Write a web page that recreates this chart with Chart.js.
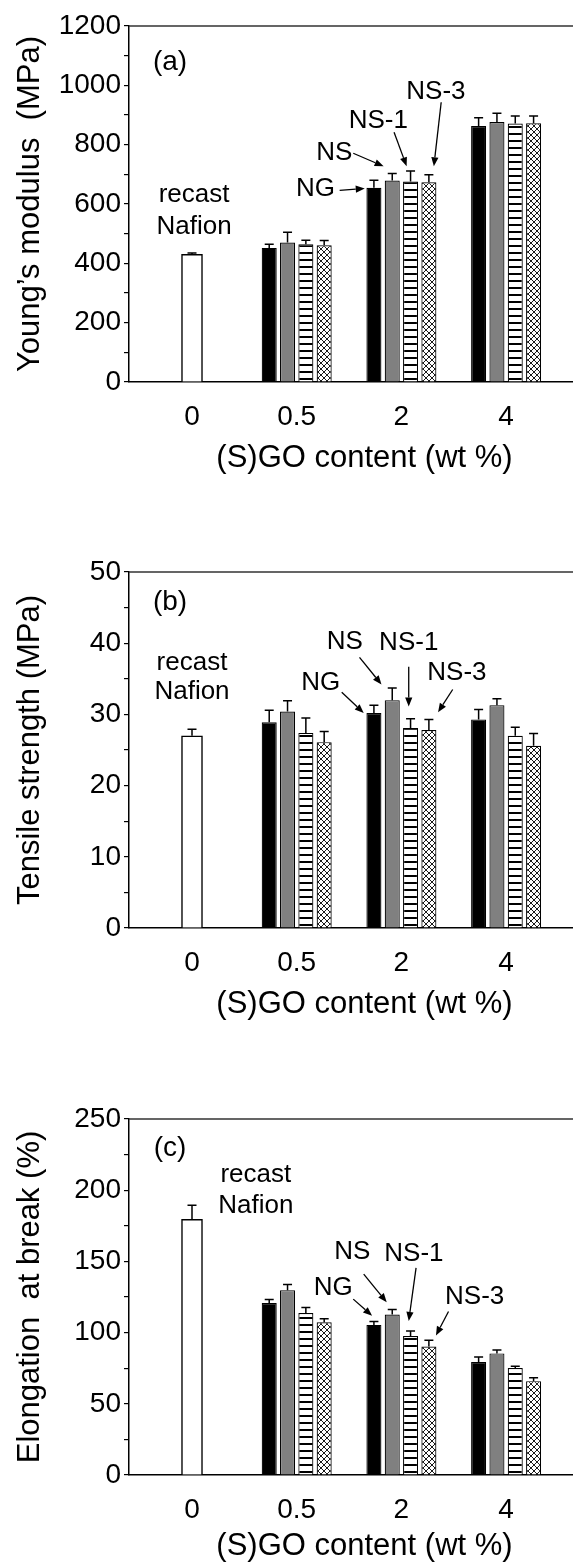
<!DOCTYPE html>
<html>
<head>
<meta charset="utf-8">
<title>Nafion / (S)GO membranes - mechanical properties</title>
<script src="https://cdn.jsdelivr.net/npm/chart.js@4.4.0/dist/chart.umd.min.js"></script>
<style>
html,body{margin:0;padding:0;background:#fff;overflow:hidden;}
body{width:573px;height:1565px;position:relative;}
canvas{position:absolute;left:0;}
</style>
</head>
<body>
<canvas id="chartA" width="600" height="484" style="top:0px"></canvas>
<canvas id="chartB" width="600" height="484" style="top:546px"></canvas>
<canvas id="chartC" width="600" height="472" style="top:1093px"></canvas>

<script>
/* ---------------- Data ---------------- */

const categories = ["0", "0.5", "2", "4"];
const fillers = ["NG", "NS", "NS-1", "NS-3"];

// (a) Young's modulus (MPa)
const modRecast = [430];
const modRecastErr = [5];
const modNG = [452, 655, 863];
const modNS = [470, 679, 876];
const modNS1 = [464, 676, 871];
const modNS3 = [461, 673, 872];
const modNGErr = [12, 25, 28];
const modNSErr = [35, 24, 30];
const modNS1Err = [14, 35, 26];
const modNS3Err = [16, 26, 25];
const modTicks = [0, 200, 400, 600, 800, 1000, 1200];

// (b) Tensile strength (MPa)
const tenRecast = [27.0];
const tenRecastErr = [0.9];
const tenNG = [28.9, 30.2, 29.3];
const tenNS = [30.4, 32.0, 31.3];
const tenNS1 = [27.4, 28.1, 27.0];
const tenNS3 = [26.1, 27.8, 25.6];
const tenNGErr = [1.7, 1.1, 1.4];
const tenNSErr = [1.5, 1.7, 0.9];
const tenNS1Err = [2.1, 1.3, 1.2];
const tenNS3Err = [1.5, 1.5, 1.7];
const tenTicks = [0, 10, 20, 30, 40, 50];

// (c) Elongation at break (%)
const elRecast = [179.5];
const elRecastErr = [10];
const elNG = [120.7, 105.4, 79.3];
const elNS = [129.8, 112.7, 85.4];
const elNS1 = [113.7, 97.6, 75.1];
const elNS3 = [107.3, 90.2, 65.9];
const elNGErr = [2.5, 2.4, 3.6];
const elNSErr = [3.9, 3.6, 2.4];
const elNS1Err = [3.9, 3.6, 1.2];
const elNS3Err = [2.5, 4.4, 2.4];
const elTicks = [0, 50, 100, 150, 200, 250];

/* ---------------- Look ---------------- */

const FONT = '"Liberation Sans", Arial, Helvetica, sans-serif';
Chart.defaults.font.family = FONT;
Chart.defaults.color = "#000";

const AXIS_LEFT = 129;     // px of y axis line inside canvas
const ZERO_Y = 382;        // px of x axis line inside canvas
const CANVAS_W = 600;
const CAT_STEP = 104.7;    // px between categories
const CAT0 = 192;          // px of first category
const xMin = -(CAT0 - AXIS_LEFT) / CAT_STEP;
const xMax = xMin + (CANVAS_W - AXIS_LEFT) / CAT_STEP;

function stripePattern() {
    const c = document.createElement("canvas");
    c.width = 7; c.height = 7;
    const g = c.getContext("2d");
    g.fillStyle = "#fff";
    g.fillRect(0, 0, 7, 7);
    g.fillStyle = "#000";
    g.fillRect(0, 0, 7, 2);
    return g.createPattern(c, "repeat");
}

function hatchPattern() {
    const c = document.createElement("canvas");
    c.width = 6; c.height = 6;
    const g = c.getContext("2d");
    g.fillStyle = "#fff";
    g.fillRect(0, 0, 6, 6);
    g.strokeStyle = "#000";
    g.lineWidth = 0.9;
    g.beginPath();
    g.moveTo(-1, -1); g.lineTo(7, 7);
    g.moveTo(-1, 7); g.lineTo(7, -1);
    g.stroke();
    return g.createPattern(c, "repeat");
}

const fills = ["#000000", "#808080", stripePattern(), hatchPattern()];

/* ---------------- Plugins ---------------- */

const frame = {
    id: "frame",
    afterDraw(chart) {
        const {ctx, chartArea: a} = chart;
        ctx.save();
        ctx.strokeStyle = "#333";
        ctx.lineWidth = 1.5;
        ctx.beginPath();
        ctx.moveTo(a.left, a.top);
        ctx.lineTo(a.right, a.top);
        ctx.lineTo(a.right, a.bottom);
        ctx.stroke();
        ctx.restore();
    }
};

const errorBars = {
    id: "errorBars",
    afterDatasetsDraw(chart) {
        const {ctx} = chart;
        const y = chart.scales.y;
        ctx.save();
        ctx.strokeStyle = "#000";
        ctx.lineWidth = 1.5;
        chart.data.datasets.forEach((ds, i) => {
            const meta = chart.getDatasetMeta(i);
            meta.data.forEach((bar, j) => {
                const top = y.getPixelForValue(ds.data[j].y + ds.errors[j]);
                ctx.beginPath();
                ctx.moveTo(bar.x, bar.y);
                ctx.lineTo(bar.x, top);
                ctx.moveTo(bar.x - 4.5, top);
                ctx.lineTo(bar.x + 4.5, top);
                ctx.stroke();
            });
        });
        ctx.restore();
    }
};

function drawArrow(ctx, x1, y1, x2, y2) {
    const a = Math.atan2(y2 - y1, x2 - x1);
    const L = 9, W = 3.6;
    const bx = x2 - L * Math.cos(a), by = y2 - L * Math.sin(a);
    ctx.beginPath();
    ctx.moveTo(x1, y1);
    ctx.lineTo(bx, by);
    ctx.stroke();
    ctx.beginPath();
    ctx.moveTo(x2, y2);
    ctx.lineTo(bx + W * Math.sin(a), by - W * Math.cos(a));
    ctx.lineTo(bx - W * Math.sin(a), by + W * Math.cos(a));
    ctx.closePath();
    ctx.fill();
}

const notes = {
    id: "notes",
    afterDraw(chart, args, opts) {
        const {ctx} = chart;
        const sx = chart.scales.x, sy = chart.scales.y;
        ctx.save();
        ctx.fillStyle = "#000";
        ctx.strokeStyle = "#000";
        ctx.lineWidth = 1.3;
        ctx.textAlign = "center";
        ctx.textBaseline = "middle";
        (opts.items || []).forEach(n => {
            ctx.font = (n.size || 26) + "px " + FONT;
            ctx.fillText(n.text, sx.getPixelForValue(n.x), sy.getPixelForValue(n.y));
            if (n.arrow) {
                drawArrow(ctx,
                    sx.getPixelForValue(n.arrow[0]), sy.getPixelForValue(n.arrow[1]),
                    sx.getPixelForValue(n.arrow[2]), sy.getPixelForValue(n.arrow[3]));
            }
        });
        ctx.restore();
    }
};

/* ---------------- Charts ---------------- */

function points(values, start) {
    return values.map((v, i) => ({x: start + i, y: v}));
}

function makeChart(id, p) {
    const canvas = document.getElementById(id);
    const datasets = [{
        label: "recast Nafion",
        data: points(p.recast, 0),
        errors: p.recastErr,
        grouped: false,
        barThickness: 21,
        backgroundColor: "#fff",
        borderColor: "#000",
        borderWidth: 1.5
    }];

    p.series.forEach((vals, k) => {
        datasets.push({
            label: fillers[k],
            data: points(vals, 1),
            errors: p.errors[k],
            backgroundColor: fills[k],
            borderColor: "#000",
            borderWidth: 1.2,
            categoryPercentage: 0.70,
            barPercentage: 0.82
        });
    });

    const step = p.ticks[1] - p.ticks[0];

    return new Chart(canvas, {
        type: "bar",
        data: {datasets},
        options: {
            responsive: false,
            animation: false,
            events: [],
            layout: {padding: {top: 26, left: 0, right: 0, bottom: 0}},
            plugins: {
                legend: {display: false},
                tooltip: {enabled: false},
                notes: {items: p.notes}
            },
            scales: {
                x: {
                    type: "linear",
                    offset: false,
                    min: xMin,
                    max: xMax,
                    afterBuildTicks: s => { s.ticks = categories.map((c, i) => ({value: i})); },
                    afterFit: s => { s.height = canvas.height - ZERO_Y; },
                    grid: {display: false, offset: false},
                    border: {display: true, color: "#000", width: 1.5},
                    ticks: {
                        callback: v => categories[v],
                        font: {size: 28},
                        padding: 10,
                        maxRotation: 0,
                        autoSkip: false
                    },
                    title: {
                        display: true,
                        text: "(S)GO content (wt %)",
                        font: {size: 31},
                        padding: {top: 0, bottom: p.titlePad}
                    }
                },
                y: {
                    min: p.ticks[0],
                    max: p.ticks[p.ticks.length - 1],
                    afterFit: s => { s.width = AXIS_LEFT; },
                    grid: {
                        drawOnChartArea: false,
                        drawTicks: true,
                        tickLength: 5,
                        color: "#000",
                        lineWidth: 1.2
                    },
                    border: {display: true, color: "#000", width: 1.5},
                    ticks: {
                        stepSize: step / 2,
                        autoSkip: false,
                        font: {size: 28},
                        padding: 3,
                        callback: v => (p.ticks.includes(v) ? v : "")
                    },
                    title: {
                        display: true,
                        text: p.yTitle,
                        font: {size: 31},
                        padding: {top: 12, bottom: 0}
                    }
                }
            }
        },
        plugins: [frame, errorBars, notes]
    });
}

makeChart("chartA", {
    recast: modRecast, recastErr: modRecastErr,
    series: [modNG, modNS, modNS1, modNS3],
    errors: [modNGErr, modNSErr, modNS1Err, modNS3Err],
    ticks: modTicks,
    titlePad: 7,
    yTitle: "Young\u2019s modulus  (MPa)",
    notes: [
        {text: "(a)", x: -0.21, y: 1078, size: 28},
        {text: "recast", x: 0.02, y: 632},
        {text: "Nafion", x: 0.02, y: 524},
        {text: "NS-3", x: 2.33, y: 977, arrow: [2.38, 943, 2.31, 727]},
        {text: "NS-1", x: 1.78, y: 879, arrow: [1.93, 842, 2.05, 727]},
        {text: "NS", x: 1.36, y: 771, arrow: [1.54, 771, 1.83, 727]},
        {text: "NG", x: 1.18, y: 652, arrow: [1.41, 646, 1.65, 652]}
    ]
});

makeChart("chartB", {
    recast: tenRecast, recastErr: tenRecastErr,
    series: [tenNG, tenNS, tenNS1, tenNS3],
    errors: [tenNGErr, tenNSErr, tenNS1Err, tenNS3Err],
    ticks: tenTicks,
    titlePad: 7,
    yTitle: "Tensile strength (MPa)",
    notes: [
        {text: "(b)", x: -0.21, y: 45.7, size: 28},
        {text: "recast", x: 0, y: 37.3},
        {text: "Nafion", x: 0, y: 33.1},
        {text: "NS", x: 1.46, y: 40.2, arrow: [1.60, 38.0, 1.81, 34.2]},
        {text: "NS-1", x: 2.07, y: 40.1, arrow: [2.07, 36.7, 2.07, 31.1]},
        {text: "NS-3", x: 2.53, y: 35.9, arrow: [2.49, 33.5, 2.35, 30.3]},
        {text: "NG", x: 1.23, y: 34.5, arrow: [1.43, 33.1, 1.64, 30.2]}
    ]
});

makeChart("chartC", {
    recast: elRecast, recastErr: elRecastErr,
    series: [elNG, elNS, elNS1, elNS3],
    errors: [elNGErr, elNSErr, elNS1Err, elNS3Err],
    ticks: elTicks,
    titlePad: 0,
    yTitle: "Elongation  at break (%)",
    notes: [
        {text: "(c)", x: -0.21, y: 229.5, size: 28},
        {text: "recast", x: 0.61, y: 210.5},
        {text: "Nafion", x: 0.61, y: 189.3},
        {text: "NS", x: 1.53, y: 156.4, arrow: [1.64, 141.1, 1.86, 121.3]},
        {text: "NS-1", x: 2.12, y: 155, arrow: [2.14, 145.5, 2.07, 108.2]},
        {text: "NG", x: 1.35, y: 131.6, arrow: [1.54, 123.5, 1.72, 111.8]},
        {text: "NS-3", x: 2.70, y: 125, arrow: [2.45, 114.8, 2.33, 98]}
    ]
});
</script>
</body>
</html>
